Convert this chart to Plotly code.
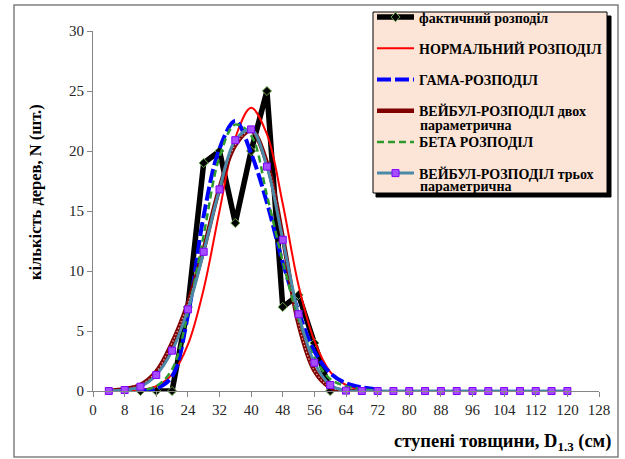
import plotly.graph_objects as go

W, H = 625, 459

# ---------------- data ----------------
x_fact = [12, 16, 20, 24, 28, 32, 36, 40, 44, 48, 52, 56, 60]
y_fact = [0, 0, 0, 7, 19, 20, 14, 20, 25, 7, 8, 4, 0]

x_norm = [4, 8, 12, 16, 20, 24, 28, 32, 36, 40, 44, 48, 52, 56, 60, 64, 68, 72]
y_norm = [0.0, 0.02, 0.09, 0.4, 1.39, 3.86, 8.5, 15.0, 21.1, 23.6, 21.4, 15.6, 8.8, 4.2, 1.6, 0.5, 0.12, 0.03]

x_gamma = [12, 16, 20, 24, 28, 32, 36, 40, 44, 48, 52, 56, 60, 64, 68, 72]
y_gamma = [0.02, 0.2, 1.2, 6.3, 14.6, 20.2, 22.5, 19.8, 15.7, 10.7, 6.6, 3.3, 1.5, 0.65, 0.3, 0.12]

x_weib2 = [4, 8, 12, 16, 20, 24, 28, 32, 36, 40, 44, 48, 52, 56, 60, 64, 68]
y_weib2 = [0.02, 0.15, 0.5, 1.6, 4.0, 7.3, 11.8, 16.9, 20.5, 21.7, 19.0, 12.8, 5.6, 1.7, 0.3, 0.02, 0.0]

x_beta = [8, 12, 16, 20, 24, 28, 32, 36, 40, 44, 48, 52, 56, 60, 64, 68, 72]
y_beta = [0.0, 0.05, 0.4, 1.8, 6.5, 13.0, 19.5, 22.2, 21.3, 16.3, 10.8, 6.0, 2.8, 1.0, 0.4, 0.15, 0.05]

x_weib3 = [4, 8, 12, 16, 20, 24, 28, 32, 36, 40, 44, 48, 52, 56, 60, 64, 68, 72, 76, 80,
           84, 88, 92, 96, 100, 104, 108, 112, 116, 120]
y_weib3 = [0.0, 0.08, 0.36, 1.33, 3.36, 6.8, 11.6, 16.8, 20.9, 21.8, 18.7, 12.6, 6.4, 2.36, 0.5, 0.03,
           0, 0, 0, 0, 0, 0, 0, 0, 0, 0, 0, 0, 0, 0]

x_ticks = list(range(0, 129, 8))
y_ticks = list(range(0, 31, 5))

names = [
    "фактичний розподіл",
    "НОРМАЛЬНИЙ РОЗПОДІЛ",
    "ГАМА-РОЗПОДІЛ",
    "ВЕЙБУЛ-РОЗПОДІЛ двох",
    "БЕТА РОЗПОДІЛ",
    "ВЕЙБУЛ-РОЗПОДІЛ трьох",
]
second_line = "параметрична"

SERIF = "Liberation Serif"

# plot area in pixels
L, R, T, B = 93, 599, 31, 391

def px(xp):
    return (xp - L) / (R - L)

def py(yp):
    return (B - yp) / (B - T)

fig = go.Figure()

fig.add_trace(go.Scatter(
    x=x_fact, y=y_fact, name=names[0], legendgroup="g1", mode="lines+markers",
    line=dict(color="black", width=5.5),
    marker=dict(symbol="diamond", size=7, color="black", line=dict(color="#6aa84f", width=1)),
    cliponaxis=False))

fig.add_trace(go.Scatter(
    x=x_norm, y=y_norm, name=names[1], legendgroup="g2", mode="lines",
    line=dict(color="#ff0000", width=2, shape="spline"), cliponaxis=False))

fig.add_trace(go.Scatter(
    x=x_gamma, y=y_gamma, name=names[2], legendgroup="g3", mode="lines",
    line=dict(color="#0000ff", width=4, shape="spline", dash="14px,4px"), cliponaxis=False))

fig.add_trace(go.Scatter(
    x=x_weib2, y=y_weib2, name=names[3], legendgroup="g4", mode="lines",
    line=dict(color="#800000", width=4.5, shape="spline"), cliponaxis=False))
fig.add_trace(go.Scatter(
    x=x_weib2, y=y_weib2, name=names[3], legendgroup="g4", mode="lines", showlegend=False,
    line=dict(color="#e0a0a0", width=1.3, shape="spline", dash="1.5px,2px"), cliponaxis=False,
    hoverinfo="skip"))

fig.add_trace(go.Scatter(
    x=x_beta, y=y_beta, name=names[4], legendgroup="g5", mode="lines",
    line=dict(color="#2e9a2e", width=2.5, shape="spline", dash="7px,4px"), cliponaxis=False))

fig.add_trace(go.Scatter(
    x=x_weib3, y=y_weib3, name=names[5], legendgroup="g6", mode="lines+markers",
    line=dict(color="#4a8aa8", width=3, shape="spline"),
    marker=dict(symbol="square", size=7, color="#a64dff", line=dict(color="#8000ff", width=1)),
    cliponaxis=False))

# outer frame
fig.add_shape(type="rect", xref="paper", yref="paper", x0=px(14), x1=px(618), y0=py(457), y1=py(5),
              line=dict(color="#808080", width=1.5), fillcolor="rgba(0,0,0,0)", layer="above")
# legend shadow
fig.add_shape(type="rect", xref="paper", yref="paper", x0=px(376), x1=px(611), y0=py(197), y1=py(16),
              line=dict(color="black", width=1), fillcolor="black", layer="above")
# legend box
fig.add_shape(type="rect", xref="paper", yref="paper", x0=px(373), x1=px(607), y0=py(193), y1=py(12),
              line=dict(color="black", width=1), fillcolor="#fce4d6", layer="above")

annotations = [
    dict(text="кількість дерев, N (шт.)", xref="paper", yref="paper", x=px(35), y=py(192),
         textangle=-90, showarrow=False, xanchor="center", yanchor="middle",
         font=dict(family=SERIF, size=16.5, color="black", weight="bold")),
    dict(text="ступені товщини, D<sub>1.3</sub> (см)", xref="paper", yref="paper",
         x=px(613), y=py(442), showarrow=False, xanchor="right", yanchor="middle",
         font=dict(family=SERIF, size=18.5, color="black", weight="bold")),
    dict(text=second_line, xref="paper", yref="paper", x=px(418), y=py(126), showarrow=False,
         xanchor="left", yanchor="middle",
         font=dict(family=SERIF, size=14, color="black", weight="bold")),
    dict(text=second_line, xref="paper", yref="paper", x=px(418), y=py(186), showarrow=False,
         xanchor="left", yanchor="middle",
         font=dict(family=SERIF, size=14, color="black", weight="bold")),
]

fig.update_layout(
    width=W, height=H,
    margin=dict(l=L, r=W - R, t=T, b=H - B, autoexpand=False),
    paper_bgcolor="white", plot_bgcolor="white",
    showlegend=True,
    legend=dict(x=px(372), y=py(1.5), xanchor="left", yanchor="top",
                bgcolor="rgba(0,0,0,0)", borderwidth=0, tracegroupgap=10,
                itemwidth=37,
                font=dict(family=SERIF, size=14, color="black", weight="bold")),
    annotations=annotations,
    xaxis=dict(range=[0, 128], tickvals=x_ticks, ticktext=[str(v) for v in x_ticks],
               showgrid=False, zeroline=False, showline=True, linecolor="#868686", linewidth=1,
               ticks="outside", ticklen=5, tickcolor="#868686",
               tickfont=dict(family=SERIF, size=15, color="#262626")),
    yaxis=dict(range=[0, 30], tickvals=y_ticks, ticktext=[str(v) for v in y_ticks],
               showgrid=False, zeroline=False, showline=True, linecolor="#868686", linewidth=1,
               ticks="outside", ticklen=5, tickcolor="#868686",
               tickfont=dict(family=SERIF, size=15, color="#262626")),
)

fig.write_html("out.html")
